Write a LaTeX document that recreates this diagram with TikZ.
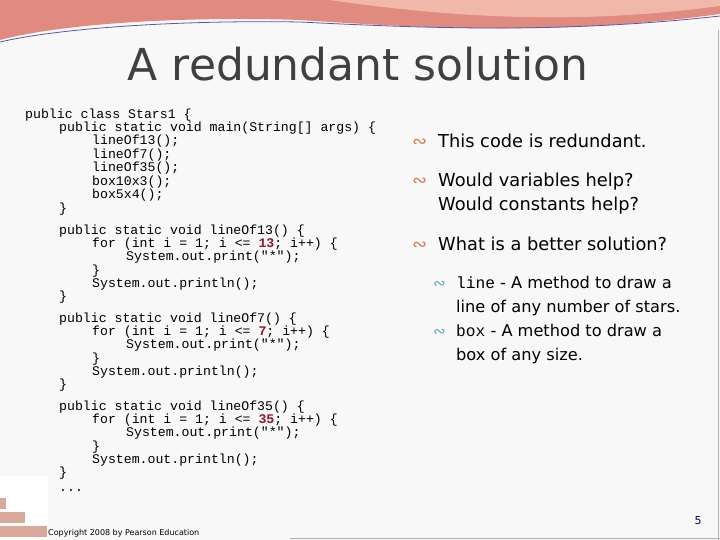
\documentclass[tikz,border=0pt]{standalone}
\usepackage{fontspec}
\setmainfont{DejaVu Sans}
\newfontfamily\codefont{Liberation Mono}
\definecolor{bg}{HTML}{F8F8F8}
\definecolor{ttl}{HTML}{404040}
\definecolor{numred}{HTML}{8B1A2B}
\definecolor{bul}{HTML}{D0805A}
\definecolor{bulb}{HTML}{5AAAB8}
\definecolor{band}{HTML}{E08A80}
\definecolor{band2}{HTML}{F0B8A8}
\definecolor{brick}{HTML}{D8A898}
\begin{document}
\begin{tikzpicture}[x=1pt,y=-1pt,
  code/.style={anchor=base west,inner sep=0pt,font=\codefont\fontsize{13.2}{14}\selectfont},
  btxt/.style={anchor=base west,inner sep=0pt,font=\fontsize{17.8}{22}\selectfont},
  stxt/.style={anchor=base west,inner sep=0pt,font=\fontsize{16.2}{24}\selectfont},
  bmark/.style={anchor=base west,inner sep=0pt,text=bul,font=\fontsize{18}{18}\selectfont},
  smark/.style={anchor=base west,inner sep=0pt,text=bulb,font=\fontsize{15}{15}\selectfont}]
\useasboundingbox (0,0) rectangle (720,540);
\fill[bg] (0,0) rectangle (720,540);
% banner
\fill[band] (0,0) -- (720,0) -- (720,14) .. controls (560,36) and (420,28) .. (300,20) .. controls (180,16) and (60,24) .. (0,40) -- cycle;
\fill[band2] (330,0) -- (720,0) -- (720,6) .. controls (600,22) and (480,22) .. (330,0) -- cycle;
\draw[gray!70!blue, line width=0.8] (0,42) .. controls (60,28) and (180,20) .. (300,22) .. controls (420,28) and (560,34) .. (720,16);
\draw[gray!60,line width=1] (718,30) -- (718,540);
\draw[gray!60,line width=1] (290,538) -- (720,538);
% title
\node[anchor=base,inner sep=0pt,text=ttl,font=\fontsize{44}{48}\selectfont] (title) at (358,81) {A redundant solution};
% code
\node[code] (c1) at (25,119) {public class Stars1 \{};
\node[code] (c2) at (59,132) {public static void main(String[] args) \{};
\node[code] (c3) at (92,145) {lineOf13();};
\node[code] (c4) at (92,159) {lineOf7();};
\node[code] (c5) at (92,172) {lineOf35();};
\node[code] (c6) at (92,186) {box10x3();};
\node[code] (c7) at (92,199) {box5x4();};
\node[code] (c8) at (59,212) {\}};
\foreach \y/\n/\f in {234/13/13,322/7/7,410/35/35}{
  \node[code] at (59,\y) {public static void lineOf\f() \{};
  \node[code] at (92,\y+13.3) {for (int i = 1; i <= \textcolor{numred}{\textbf{\n}}; i++) \{};
  \node[code] at (126,\y+26.6) {System.out.print("*");};
  \node[code] at (92,\y+40) {\}};
  \node[code] at (92,\y+53.3) {System.out.println();};
  \node[code] at (59,\y+66.6) {\}};
}
\node[code] (dots) at (59,491) {...};
% bullets
\node[bmark] (m1) at (412,148) {∾};
\node[btxt] (b1) at (438,148) {This code is redundant.};
\node[bmark] (m2) at (412,187) {∾};
\node[btxt] (b2) at (438,187) {Would variables help?};
\node[btxt] (b2b) at (438,211) {Would constants help?};
\node[bmark] (m3) at (412,250) {∾};
\node[btxt] (b3) at (438,250) {What is a better solution?};
\node[smark] (s1) at (433,288) {∾};
\node[stxt] (t1) at (456,288) {{\codefont line} - A method to draw a};
\node[stxt] (t1b) at (456,312) {line of any number of stars.};
\node[smark] (s2) at (433,336) {∾};
\node[stxt] (t2) at (456,336) {{\codefont box} - A method to draw a};
\node[stxt] (t2b) at (456,360) {box of any size.};
% bricks
\fill[white] (0,476) rectangle (48,540);
\foreach \x/\y/\w in {0/498/6,0/512/25,0/526/45,5/512/18,27/526/20}{
  \fill[brick] (\x,\y) rectangle ++(\w,11);}
\node[anchor=base west,inner sep=0pt,font=\fontsize{8}{8}\selectfont] (copy) at (48,535) {Copyright 2008 by Pearson Education};
\node[anchor=base,inner sep=0pt,text=blue!50!black,font=\fontsize{11}{11}\selectfont] (pg) at (698,524) {5};
\end{tikzpicture}
\end{document}
